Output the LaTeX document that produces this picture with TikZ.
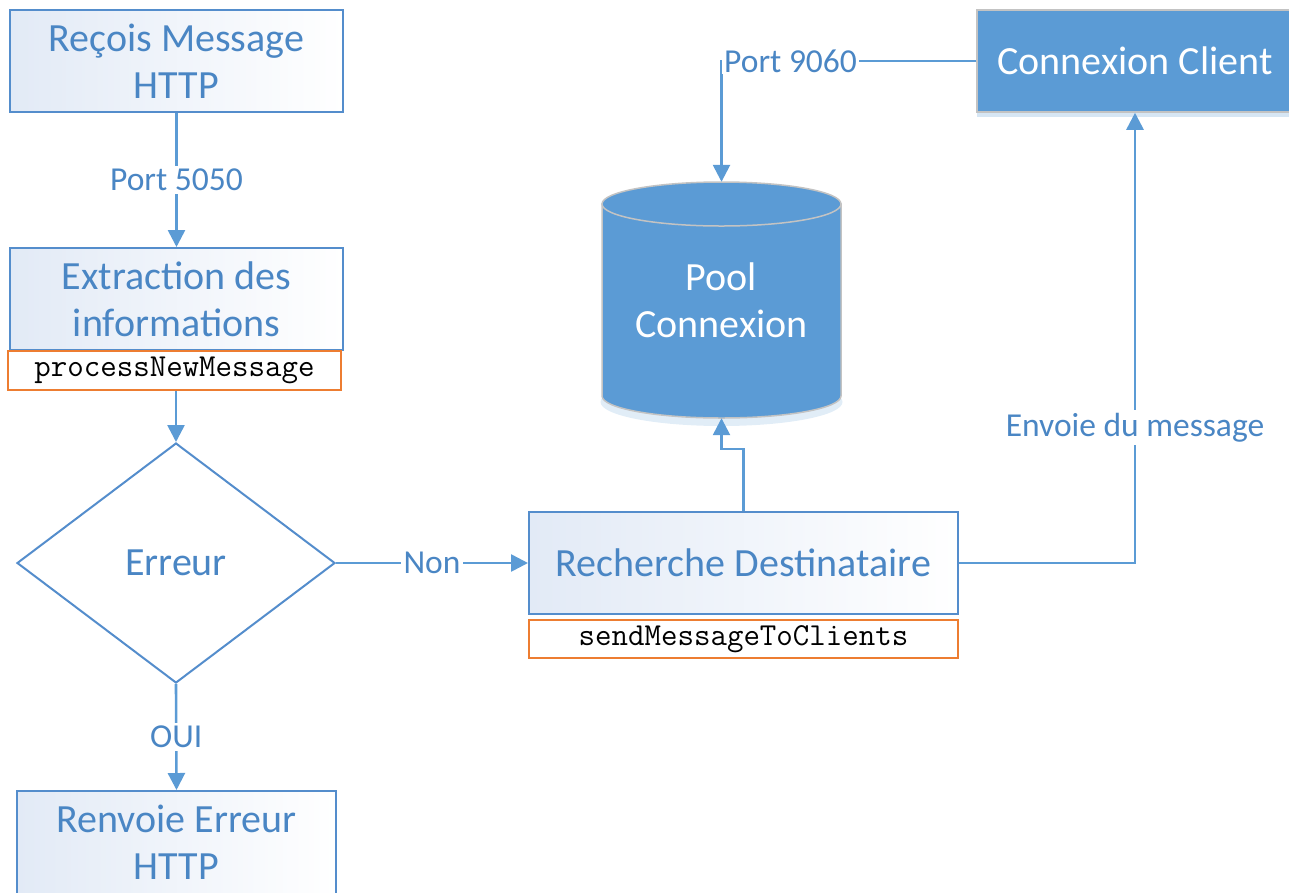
\documentclass[tikz,border=0pt]{standalone}
\usepackage{fontspec}
\setmainfont{Carlito}
\usetikzlibrary{arrows.meta,shadows,shapes.geometric}

\definecolor{lc}{RGB}{91,155,213}
\definecolor{bc}{RGB}{84,141,204}
\definecolor{tc}{RGB}{74,134,196}
\definecolor{bf}{RGB}{91,155,213}
\definecolor{oc}{RGB}{237,125,49}
\definecolor{gc}{RGB}{226,234,246}
\definecolor{sb}{RGB}{195,195,195}

\begin{document}
\begin{tikzpicture}[x=1pt,y=-1pt,
  proc/.style={draw=bc, line width=2pt, left color=gc, right color=white,
    text=tc, font=\fontsize{40}{47}\selectfont, align=center, inner sep=0pt},
  codebox/.style={draw=oc, line width=2pt, fill=white, text=black,
    font=\ttfamily\fontsize{32}{34}\selectfont, inner sep=0pt},
  blueb/.style={draw=sb, line width=1.5pt, fill=bf, text=white,
    font=\fontsize{40}{47}\selectfont, align=center, inner sep=0pt},
  decide/.style={diamond, draw=bc, line width=2pt, fill=white, text=tc,
    font=\fontsize{40}{47}\selectfont, inner sep=0pt, aspect=1.325},
  arr/.style={draw=lc, line width=2.6pt, -{Triangle[length=17pt,width=17pt]}},
  lab/.style={fill=white, text=tc, font=\fontsize{33.5}{38}\selectfont, inner sep=3pt}
]
\useasboundingbox (0,0) rectangle (1289,892);

% boxes
\node[proc, minimum width=333, minimum height=102] (recv) at (176.5,61) {Reçois Message\\HTTP};
\node[proc, minimum width=333, minimum height=102] (extr) at (176.5,299) {Extraction des\\informations};
\node[codebox, minimum width=333, minimum height=39] (pnm) at (174.5,370.5) {processNewMessage};
\node[decide, minimum width=318, minimum height=240] (err) at (176,563) {Erreur};
\node[proc, minimum width=319, minimum height=103] (renv) at (176.5,842.5) {Renvoie Erreur\\HTTP};
\node[proc, minimum width=429, minimum height=102] (rech) at (743.5,563) {Recherche Destinataire};
\node[codebox, minimum width=429, minimum height=38] (smtc) at (743.5,639) {sendMessageToClients};
\node[blueb, minimum width=316, minimum height=102,
  drop shadow={shadow xshift=0pt, shadow yshift=-5pt, opacity=.25, fill=lc}] (cc) at (1135,61) {Connexion Client};

% cylinder
\fill[lc, opacity=.18] (721.5,402) ellipse [x radius=121, y radius=24];
\filldraw[fill=bf, draw=sb, line width=1.5pt] (602,204) -- (602,396)
  arc[start angle=180, end angle=0, x radius=119.5, y radius=22] -- (841,204) -- cycle;
\filldraw[fill=bf, draw=sb, line width=1.5pt] (721.5,204) ellipse [x radius=119.5, y radius=22];
\node[minimum width=239, minimum height=236, inner sep=0pt, text=white,
  font=\fontsize{40}{47}\selectfont, align=center] (pool) at (721.5,300) {Pool\\Connexion};

% connectors
\draw[arr] (recv.south) -- node[lab] {Port 5050} (extr.north);
\draw[arr] (pnm.south -| err.north) -- (err.north);
\draw[arr] (err.south) -- node[lab] {OUI} (renv.north);
\draw[arr] (err.east) -- node[lab] {Non} (rech.west);
\draw[arr] (rech.north) -- ++(0,-62) -| (pool.south);
\draw[arr] (rech.east) -| node[lab, pos=0.65] {Envoie du message} (cc.south);
\draw[arr] (cc.west) -| (pool.north);
\node[lab, anchor=west, inner sep=2pt] (p9060) at (722,61) {Port 9060};
\end{tikzpicture}
\end{document}
